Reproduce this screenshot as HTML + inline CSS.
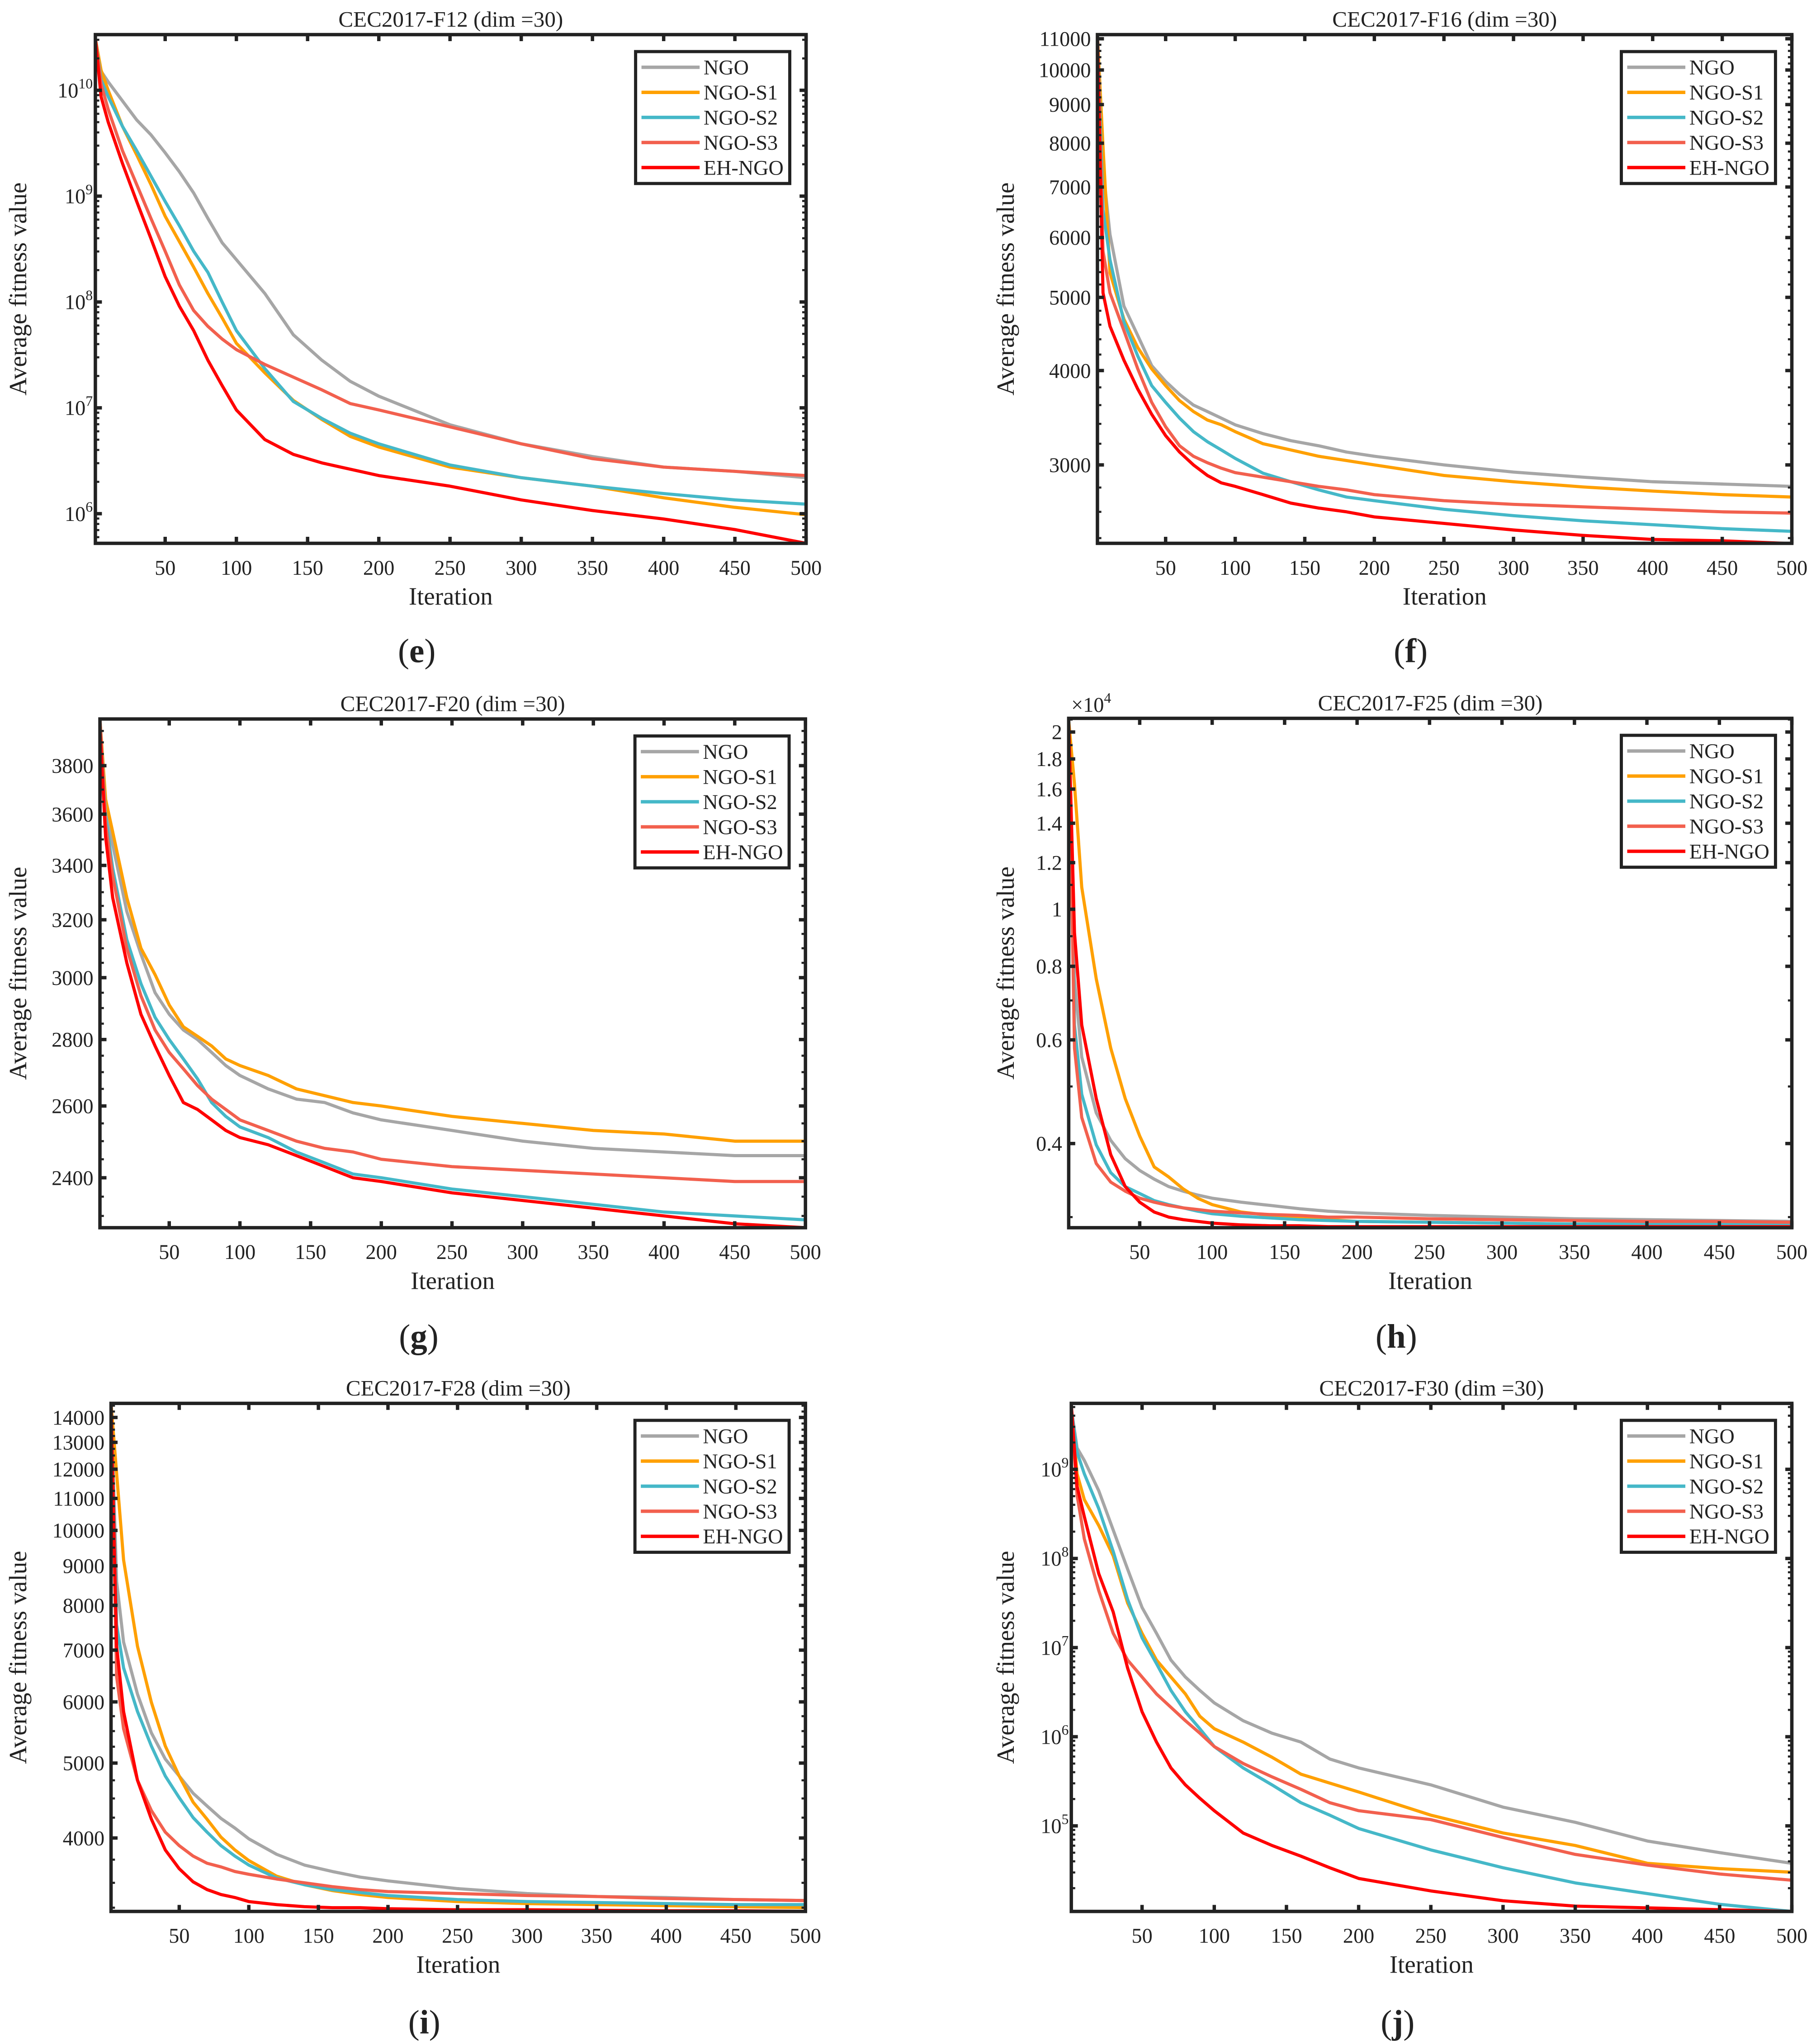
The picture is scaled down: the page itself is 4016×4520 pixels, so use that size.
<!DOCTYPE html>
<html><head><meta charset="utf-8"><title>EH-NGO convergence curves</title>
<style>html,body{margin:0;padding:0;background:#fff}svg{display:block}svg text{font-family:"Liberation Serif","Times New Roman",serif;fill:#222}</style>
</head><body>
<svg id="fig" width="4016" height="4520" viewBox="0 0 1390 1565" preserveAspectRatio="none" font-family="Liberation Serif, serif" xmlns="http://www.w3.org/2000/svg"></svg>
<script>
const iterations=[1,5,10,20,30,40,50,60,70,80,90,100,120,140,160,180,200,250,300,350,400,450,500];
const xTicks=[50,100,150,200,250,300,350,400,450,500];
const seriesNames=["NGO","NGO-S1","NGO-S2","NGO-S3","EH-NGO"];
const seriesColors=["#a6a6a6","#ffa000","#45b8c8","#f2604e","#ff0000"];
// F12 (log10 of fitness)
const f12NgoLog10=[10.49,10.18,10.08,9.90,9.72,9.58,9.41,9.23,9.03,8.79,8.56,8.40,8.08,7.69,7.45,7.25,7.11,6.84,6.66,6.54,6.44,6.40,6.34];
const f12S1Log10=[10.49,10.19,10.00,9.66,9.39,9.11,8.81,8.57,8.33,8.08,7.85,7.61,7.33,7.07,6.89,6.73,6.63,6.44,6.34,6.26,6.15,6.06,5.99];
const f12S2Log10=[10.49,10.10,9.94,9.66,9.43,9.19,8.95,8.72,8.48,8.28,8.00,7.73,7.37,7.06,6.90,6.76,6.66,6.46,6.34,6.26,6.19,6.13,6.09];
const f12S3Log10=[10.49,10.06,9.82,9.43,9.11,8.79,8.48,8.16,7.92,7.77,7.65,7.55,7.41,7.29,7.17,7.04,6.98,6.82,6.66,6.52,6.44,6.40,6.36];
const f12EhLog10=[10.49,9.94,9.70,9.31,8.95,8.60,8.24,7.96,7.73,7.45,7.21,6.98,6.70,6.56,6.48,6.42,6.36,6.26,6.13,6.03,5.95,5.85,5.72];
const f12TickExps=[6,7,8,9,10];
// F16
const f16Ngo=[11130,7410,6060,4870,4450,4060,3870,3720,3600,3530,3460,3390,3300,3230,3180,3120,3080,3000,2935,2890,2850,2830,2810];
const f16S1=[11130,7920,5390,4680,4290,4020,3820,3650,3530,3440,3390,3320,3200,3140,3080,3040,3000,2905,2850,2805,2770,2740,2720];
const f16S2=[11130,6530,5610,4640,4180,3820,3630,3460,3320,3220,3140,3060,2925,2850,2780,2720,2690,2620,2570,2530,2500,2470,2450];
const f16S3=[11130,5760,5070,4520,4020,3630,3370,3180,3080,3020,2970,2930,2890,2850,2810,2780,2740,2690,2660,2640,2620,2600,2590];
const f16Eh=[11130,5070,4580,4130,3780,3500,3280,3120,3000,2905,2840,2810,2740,2670,2630,2600,2560,2510,2460,2420,2390,2380,2360];
const f16Ticks=[3000,4000,5000,6000,7000,8000,9000,10000,11000];
// F20
const f20Ngo=[4003,3630,3480,3230,3080,2950,2880,2830,2800,2760,2720,2690,2650,2620,2610,2580,2560,2530,2500,2480,2470,2460,2460];
const f20S1=[4003,3660,3530,3280,3100,3010,2910,2840,2810,2780,2740,2720,2690,2650,2630,2610,2600,2570,2550,2530,2520,2500,2500];
const f20S2=[4003,3590,3390,3130,2980,2870,2800,2740,2680,2610,2570,2540,2510,2470,2440,2410,2400,2370,2350,2330,2310,2300,2290];
const f20S3=[4003,3560,3360,3100,2940,2830,2760,2710,2660,2620,2590,2560,2530,2500,2480,2470,2450,2430,2420,2410,2400,2390,2390];
const f20Eh=[3960,3510,3280,3050,2880,2780,2690,2610,2590,2560,2530,2510,2490,2460,2430,2400,2390,2360,2340,2320,2300,2280,2270];
const f20Ticks=[2400,2600,2800,3000,3200,3400,3600,3800];
// F25
const f25Ngo=[20900,7620,5610,4510,4050,3770,3600,3480,3380,3320,3270,3230,3180,3140,3100,3070,3050,3020,3000,2980,2970,2960,2950];
const f25S1=[20900,16300,10900,7620,5810,4770,4120,3650,3510,3350,3230,3150,3060,3020,2990,2970,2950,2940,2930,2920,2920,2910,2910];
const f25S2=[20900,6360,4850,3980,3570,3380,3290,3200,3150,3110,3070,3040,3010,2990,2970,2960,2950,2940,2930,2920,2920,2920,2910];
const f25S3=[20900,5810,4430,3700,3440,3320,3230,3180,3140,3110,3090,3070,3050,3030,3020,3000,3000,2980,2970,2960,2950,2950,2940];
const f25Eh=[20900,9120,6360,4770,3830,3380,3180,3060,3000,2970,2950,2930,2910,2900,2900,2890,2890,2890,2890,2890,2890,2890,2890];
const f25Ticks=[4000,6000,8000,10000,12000,14000,16000,18000,20000];
const f25TickLabels=["0.4","0.6","0.8","1","1.2","1.4","1.6","1.8","2"];
// F28
const f28Ngo=[14600,8590,7170,6140,5470,5060,4810,4570,4400,4240,4120,3990,3810,3690,3620,3560,3520,3440,3390,3360,3350,3330,3320];
const f28S1=[14600,11850,9160,7080,5990,5260,4810,4450,4230,4010,3860,3740,3570,3480,3420,3380,3350,3310,3290,3280,3270,3260,3250];
const f28S2=[14600,7550,6640,5830,5260,4810,4510,4250,4070,3910,3790,3690,3550,3480,3430,3400,3370,3330,3310,3300,3290,3280,3280];
const f28S3=[14600,6470,5540,4750,4340,4070,3910,3790,3710,3670,3620,3590,3540,3500,3460,3430,3410,3390,3370,3360,3340,3330,3320];
const f28Eh=[14600,7080,5830,4750,4230,3860,3650,3510,3430,3380,3350,3310,3280,3260,3250,3250,3240,3230,3230,3225,3220,3220,3215];
const f28Ticks=[4000,5000,6000,7000,8000,9000,10000,11000,12000,13000,14000];
// F30 (log10 of fitness)
const f30NgoLog10=[9.68,9.24,9.10,8.76,8.32,7.88,7.45,7.16,6.86,6.67,6.52,6.38,6.18,6.04,5.94,5.75,5.65,5.46,5.21,5.04,4.83,4.70,4.58];
const f30S1Log10=[9.68,8.95,8.66,8.37,8.03,7.50,7.16,6.86,6.67,6.48,6.23,6.09,5.94,5.77,5.58,5.48,5.38,5.12,4.92,4.78,4.58,4.52,4.48];
const f30S2Log10=[9.68,9.19,8.95,8.56,8.08,7.54,7.11,6.82,6.52,6.28,6.09,5.89,5.65,5.46,5.26,5.12,4.97,4.73,4.53,4.36,4.24,4.12,4.04];
const f30S3Log10=[9.68,8.71,8.22,7.64,7.16,6.86,6.67,6.48,6.33,6.18,6.04,5.89,5.70,5.55,5.41,5.26,5.17,5.07,4.87,4.68,4.56,4.46,4.39];
const f30EhLog10=[9.73,8.81,8.47,7.83,7.40,6.77,6.28,5.94,5.65,5.46,5.31,5.17,4.92,4.78,4.66,4.53,4.41,4.27,4.16,4.10,4.08,4.06,4.04];
const f30TickExps=[5,6,7,8,9];

const NS="http://www.w3.org/2000/svg";
const FONT="Liberation Serif, Times New Roman, serif";
const svg=document.getElementById("fig");
function mk(tag,attrs,parent){const e=document.createElementNS(NS,tag);for(const k in attrs)e.setAttribute(k,attrs[k]);if(tag==="text")e.setAttribute("font-family",FONT);(parent||svg).appendChild(e);return e;}

function drawPanel(p){
  const g=mk("g",{});
  
  
  const L=p.box[0],R=p.box[1],T=p.box[2],B=p.box[3];
  const xs=v=>L+(v-1)/(499)*(R-L);
  const lg=p.isLog10?(v=>v):(v=>Math.log10(v));
  const ys=v=>B-(lg(v)-p.lo)/(p.hi-p.lo)*(B-T);
  const cid="clip-"+p.id;
  const cp=mk("clipPath",{id:cid},g);mk("rect",{x:L,y:T,width:R-L,height:B-T},cp);
  p.series.forEach((vals,si)=>{
    const pts=iterations.map((it,i)=>xs(it).toFixed(2)+","+ys(vals[i]).toFixed(2)).join(" ");
    const pl=mk("polyline",{points:pts,fill:"none",stroke:seriesColors[si],"stroke-width":2.4,"stroke-linejoin":"round","clip-path":"url(#"+cid+")"},g);
    
    
  });
  p.minor.forEach(v=>{const y=ys(v);if(y<T||y>B)return;
    const t1=mk("line",{x1:L,x2:L+3,y1:y,y2:y,stroke:"#222","stroke-width":1.6},g);
    
    
    const t2=mk("line",{x1:R,x2:R-3,y1:y,y2:y,stroke:"#222","stroke-width":1.6},g);
    
    
  });
  p.yTicks.forEach((v,i)=>{const y=ys(v);
    const t1=mk("line",{x1:L,x2:L+5,y1:y,y2:y,stroke:"#222","stroke-width":2.6},g);
    
    
    const t2=mk("line",{x1:R,x2:R-5,y1:y,y2:y,stroke:"#222","stroke-width":2.6},g);
    
    
    const tx=mk("text",{x:L-5,y:y+5.5,"text-anchor":"end","font-size":16},g);
    
    
    if(p.isLog10){tx.textContent="10";const s=mk("tspan",{dy:-7,"font-size":11},tx);s.textContent=String(v);tx.setAttribute("x",L-2);}
    else tx.textContent=p.yLabels?p.yLabels[i]:String(v);
  });
  xTicks.forEach(v=>{const x=xs(v);
    const t1=mk("line",{x1:x,x2:x,y1:B,y2:B-5,stroke:"#222","stroke-width":2.6},g);
    
    
    const t2=mk("line",{x1:x,x2:x,y1:T,y2:T+5,stroke:"#222","stroke-width":2.6},g);
    
    
    const tx=mk("text",{x:x,y:B+24,"text-anchor":"middle","font-size":16},g);
    
    
    tx.textContent=String(v);
  });
  const fr=mk("rect",{x:L,y:T,width:R-L,height:B-T,fill:"none",stroke:"#222","stroke-width":2.6},g);
  
  
  const ti=mk("text",{x:(L+R)/2,y:T-6,"text-anchor":"middle","font-size":17},g);
  
  
  ti.textContent=p.title;
  const xl=mk("text",{x:(L+R)/2,y:B+47,"text-anchor":"middle","font-size":19},g);
  
  
  xl.textContent="Iteration";
  const cy=(T+B)/2;
  const yl=mk("text",{x:p.ylx,y:cy,"text-anchor":"middle","font-size":19,transform:"rotate(-90 "+p.ylx+" "+cy+")"},g);
  
  
  yl.textContent="Average fitness value";
  if(p.exponent){
    const ex=mk("text",{x:L+2,y:T-5,"font-size":16},g);
    
    
    ex.textContent="×10";
    const s=mk("tspan",{dy:-7,"font-size":11},ex);s.textContent="4";
  }
  const lx=R-130.5,ly=T+13;
  const lgG=mk("g",{},g);
  
  
  mk("rect",{x:lx,y:ly,width:118,height:101,fill:"#fff",stroke:"#222","stroke-width":2.4},lgG);
  seriesNames.forEach((n,i)=>{const yy=ly+12+i*19.2;
    const en=mk("g",{},lgG);
    
    
    mk("line",{x1:lx+4.5,x2:lx+49,y1:yy,y2:yy,stroke:seriesColors[i],"stroke-width":2.6},en);
    const t=mk("text",{x:lx+52,y:yy+5.5,"font-size":16},en);t.textContent=n;
  });
  const pl=mk("text",{x:(L+R)/2-26,y:p.letterY,"text-anchor":"middle","font-size":26},g);
  
  
  pl.textContent="(";const b=mk("tspan",{"font-weight":"bold"},pl);b.textContent=p.letter;const c=mk("tspan",{},pl);c.textContent=")";
}
function logMinor(lo,hi){const a=[];for(let d=Math.floor(lo);d<=Math.ceil(hi);d++)for(let k=2;k<=9;k++)a.push(d+Math.log10(k));return a;}
function stepMinor(a,b,s){const r=[];for(let v=a;v<=b;v+=s)r.push(v);return r;}

drawPanel({id:"f12",name:"panel-e-f12",title:"CEC2017-F12 (dim =30)",box:[73,617,26.5,416],isLog10:true,lo:5.72,hi:10.526,
  series:[f12NgoLog10,f12S1Log10,f12S2Log10,f12S3Log10,f12EhLog10],yTicks:f12TickExps,minor:logMinor(5,10),ylx:20,letter:"e",letterY:507});
drawPanel({id:"f16",name:"panel-f-f16",title:"CEC2017-F16 (dim =30)",box:[840,1371.5,26.5,416],lo:Math.log10(2362),hi:Math.log10(11140),
  series:[f16Ngo,f16S1,f16S2,f16S3,f16Eh],yTicks:f16Ticks,minor:stepMinor(2400,11000,200),ylx:776,letter:"f",letterY:507});
drawPanel({id:"f20",name:"panel-g-f20",title:"CEC2017-F20 (dim =30)",box:[76.5,616.5,550.5,940],lo:Math.log10(2270),hi:Math.log10(4003),
  series:[f20Ngo,f20S1,f20S2,f20S3,f20Eh],yTicks:f20Ticks,minor:stepMinor(2300,3950,50),ylx:20,letter:"g",letterY:1032});
drawPanel({id:"f25",name:"panel-h-f25",title:"CEC2017-F25 (dim =30)",box:[818,1371.5,550,940],lo:Math.log10(2878),hi:Math.log10(21100),exponent:true,
  series:[f25Ngo,f25S1,f25S2,f25S3,f25Eh],yTicks:f25Ticks,yLabels:f25TickLabels,minor:stepMinor(3000,21000,1000),ylx:776,letter:"h",letterY:1032});
drawPanel({id:"f28",name:"panel-i-f28",title:"CEC2017-F28 (dim =30)",box:[85,616.5,1074.5,1463.5],lo:Math.log10(3214),hi:Math.log10(14600),
  series:[f28Ngo,f28S1,f28S2,f28S3,f28Eh],yTicks:f28Ticks,minor:stepMinor(3250,14500,250),ylx:20,letter:"i",letterY:1557});
drawPanel({id:"f30",name:"panel-j-f30",title:"CEC2017-F30 (dim =30)",box:[820,1371.5,1074.5,1463.5],isLog10:true,lo:4.04,hi:9.74,
  series:[f30NgoLog10,f30S1Log10,f30S2Log10,f30S3Log10,f30EhLog10],yTicks:f30TickExps,minor:logMinor(4,9),ylx:776,letter:"j",letterY:1557});
</script>
</body></html>
